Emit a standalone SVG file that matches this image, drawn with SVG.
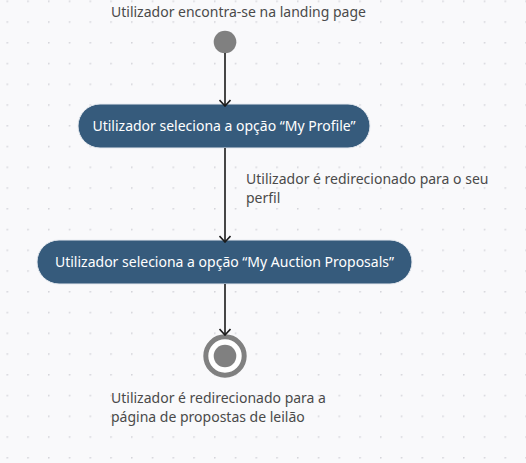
<svg xmlns="http://www.w3.org/2000/svg" width="526" height="463" viewBox="0 0 526 463">
<defs>
<pattern id="dots" x="6.5" y="0.5" width="20.75" height="20.75" patternUnits="userSpaceOnUse">
<circle cx="0.75" cy="0.75" r="0.9" fill="#d4d4da"/>
</pattern>
<marker id="arr" viewBox="0 0 12 12" refX="11" refY="6" markerWidth="12" markerHeight="12" markerUnits="userSpaceOnUse" orient="auto">
<path d="M5,0.5 L11,6 L5,11.5" fill="none" stroke="#1a1a1a" stroke-width="1.6"/>
</marker>
</defs>
<style>
.lbl{font-family:"Noto Sans","Open Sans",sans-serif;font-size:14px;fill:#4a4a4a}
.act{fill:#365b7c;stroke:#e6eaf0;stroke-width:1}
.actt{font-family:"Noto Sans","Open Sans",sans-serif;font-size:14px;fill:#ffffff;text-anchor:middle}
.edge{stroke:#1a1a1a;stroke-width:1.6;fill:none}
</style>
<rect width="526" height="463" fill="#f9f9fb"/>
<rect width="526" height="463" fill="url(#dots)"/>
<g id="start">
<text class="lbl" x="111" y="17">Utilizador encontra-se na landing page</text>
<circle cx="225" cy="42" r="11.3" fill="#808080"/>
</g>
<g id="node1">
<rect class="act" x="78" y="104" width="292" height="44" rx="22"/>
<text class="actt" x="224" y="131">Utilizador seleciona a opção “My Profile”</text>
</g>
<g id="edge-label">
<text class="lbl" x="246" y="184">Utilizador é redirecionado para o seu</text>
<text class="lbl" x="246" y="203">perfil</text>
</g>
<g id="node2">
<rect class="act" x="37" y="240" width="375" height="44" rx="22"/>
<text class="actt" x="224.5" y="267">Utilizador seleciona a opção “My Auction Proposals”</text>
</g>
<g id="end">
<circle cx="225" cy="356" r="19.2" fill="#ffffff" stroke="#808080" stroke-width="5"/>
<circle cx="225" cy="356" r="11.3" fill="#808080"/>
<text class="lbl" x="111" y="403">Utilizador é redirecionado para a</text>
<text class="lbl" x="111" y="422">página de propostas de leilão</text>
</g>
<g id="connectors">
<line class="edge" x1="225" y1="53" x2="225" y2="106" marker-end="url(#arr)"/>
<line class="edge" x1="225" y1="148" x2="225" y2="242" marker-end="url(#arr)"/>
<line class="edge" x1="225" y1="284" x2="225" y2="335" marker-end="url(#arr)"/>
</g>
</svg>
